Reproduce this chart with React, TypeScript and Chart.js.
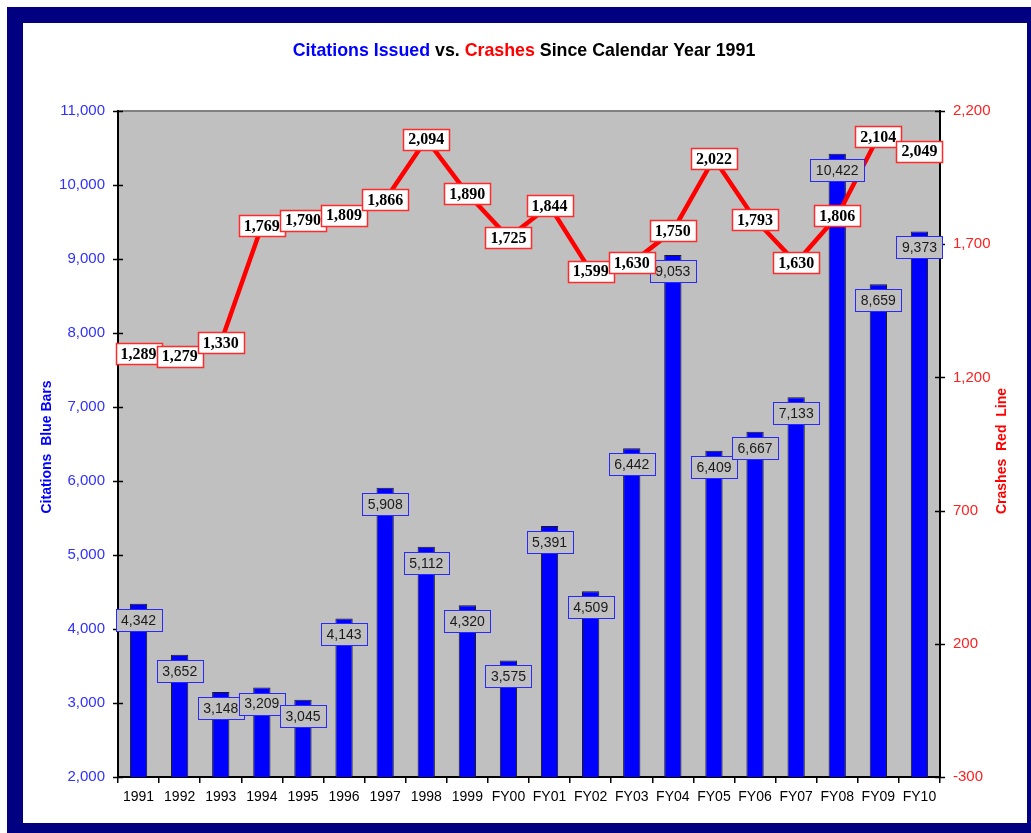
import React, { useEffect, useRef } from "react";
import { Chart, registerables } from "chart.js";

Chart.register(...registerables);

const categories = [
  "1991", "1992", "1993", "1994", "1995", "1996", "1997", "1998", "1999",
  "FY00", "FY01", "FY02", "FY03", "FY04", "FY05", "FY06", "FY07", "FY08", "FY09", "FY10",
];
const citations = [
  4342, 3652, 3148, 3209, 3045, 4143, 5908, 5112, 4320, 3575,
  5391, 4509, 6442, 9053, 6409, 6667, 7133, 10422, 8659, 9373,
];
const crashes = [
  1289, 1279, 1330, 1769, 1790, 1809, 1866, 2094, 1890, 1725,
  1844, 1599, 1630, 1750, 2022, 1793, 1630, 1806, 2104, 2049,
];
const titleParts: [string, string][] = [
  ["Citations Issued", "#0000FF"],
  [" vs. ", "#000000"],
  ["Crashes", "#FF0000"],
  [" Since Calendar Year 1991", "#000000"],
];
const leftAxisTitle = "Citations  Blue Bars";
const rightAxisTitle = "Crashes  Red  Line";

const SANS = "Arial, 'Liberation Sans', sans-serif";
const SERIF = "'Times New Roman', 'Liberation Serif', serif";

const fmt = (v: number) => v.toLocaleString("en-US");

const decorPlugin = {
  id: "decor",
  beforeDraw(chart: any) {
    const ctx = chart.ctx;
    const { left, right, top, bottom } = chart.chartArea;
    ctx.save();
    // frame
    ctx.fillStyle = "#000080";
    ctx.fillRect(7, 7, chart.width - 7, chart.height - 7);
    ctx.fillStyle = "#FFFFFF";
    ctx.fillRect(23, 23, 1027 - 23, 823 - 23);
    // plot background
    ctx.fillStyle = "#C0C0C0";
    ctx.fillRect(left, top, right - left, bottom - top);
    ctx.strokeStyle = "#808080";
    ctx.lineWidth = 2;
    ctx.beginPath();
    ctx.moveTo(left, top);
    ctx.lineTo(right, top);
    ctx.stroke();
    // title
    ctx.font = `bold 17.8px ${SANS}`;
    ctx.textBaseline = "middle";
    ctx.textAlign = "left";
    let total = 0;
    titleParts.forEach(([t]) => (total += ctx.measureText(t).width));
    let x = 524 - total / 2;
    titleParts.forEach(([t, c]) => {
      ctx.fillStyle = c;
      ctx.fillText(t, x, 51);
      x += ctx.measureText(t).width;
    });
    // axis titles
    ctx.font = `bold 14px ${SANS}`;
    ctx.textAlign = "center";
    ctx.save();
    ctx.translate(47, 447);
    ctx.rotate(-Math.PI / 2);
    ctx.fillStyle = "#0000FF";
    ctx.fillText(leftAxisTitle, 0, 0);
    ctx.restore();
    ctx.save();
    ctx.translate(1002, 451);
    ctx.rotate(-Math.PI / 2);
    ctx.fillStyle = "#FF0000";
    ctx.fillText(rightAxisTitle, 0, 0);
    ctx.restore();
    ctx.restore();
  },
  afterDraw(chart: any) {
    const ctx = chart.ctx;
    ctx.save();
    // y ticks crossing axes
    ctx.strokeStyle = "#000000";
    ctx.lineWidth = 1.5;
    const ys = chart.scales.y;
    ys.ticks.forEach((t: any) => {
      const py = Math.round(ys.getPixelForValue(t.value)) + 0.5;
      ctx.beginPath();
      ctx.moveTo(113, py);
      ctx.lineTo(123, py);
      ctx.stroke();
    });
    const y2 = chart.scales.y2;
    y2.ticks.forEach((t: any) => {
      const py = Math.round(y2.getPixelForValue(t.value)) + 0.5;
      ctx.beginPath();
      ctx.moveTo(935, py);
      ctx.lineTo(945, py);
      ctx.stroke();
    });

    // bar labels
    const barMeta = chart.getDatasetMeta(1);
    ctx.font = `14px ${SANS}`;
    ctx.textAlign = "center";
    ctx.textBaseline = "middle";
    barMeta.data.forEach((el: any, i: number) => {
      const txt = fmt(citations[i]);
      const w = Math.round(ctx.measureText(txt).width + 11);
      const h = 22;
      const cx = el.x;
      const cy = el.y + 16;
      const bx = Math.round(cx - w / 2) + 0.5;
      const by = Math.round(cy - h / 2) + 0.5;
      ctx.fillStyle = "#C0C0C0";
      ctx.fillRect(bx, by, w, h);
      ctx.strokeStyle = "#2828FF";
      ctx.lineWidth = 1;
      ctx.strokeRect(bx, by, w, h);
      ctx.fillStyle = "#1a1a1a";
      ctx.fillText(txt, cx, cy + 1);
    });

    // line labels
    const lineMeta = chart.getDatasetMeta(0);
    ctx.font = `bold 16px ${SERIF}`;
    lineMeta.data.forEach((el: any, i: number) => {
      const txt = fmt(crashes[i]);
      const w = Math.round(ctx.measureText(txt).width + 10);
      const h = 21;
      const cx = el.x;
      const cy = el.y;
      const bx = Math.round(cx - w / 2) + 0.5;
      const by = Math.round(cy - h / 2) + 0.5;
      ctx.fillStyle = "#FFFFFF";
      ctx.fillRect(bx, by, w, h);
      ctx.strokeStyle = "#FF2a2a";
      ctx.lineWidth = 1.5;
      ctx.strokeRect(bx, by, w, h);
      ctx.fillStyle = "#000000";
      ctx.fillText(txt, cx, cy + 1);
    });
    ctx.restore();
  },
};

export default function App() {
  const ref = useRef<HTMLCanvasElement | null>(null);

  useEffect(() => {
    document.body.style.margin = "0";
    if (!ref.current) return;
    const chart = new Chart(ref.current, {
      data: {
        labels: categories,
        datasets: [
          {
            type: "line",
            label: "Crashes",
            data: crashes,
            yAxisID: "y2",
            borderColor: "#FF0000",
            borderWidth: 4.5,
            pointRadius: 0,
            tension: 0,
            order: 0,
          },
          {
            type: "bar",
            label: "Citations",
            data: citations,
            yAxisID: "y",
            backgroundColor: "#0000FF",
            borderColor: "#1a1a1a",
            borderWidth: 1,
            barPercentage: 0.42,
            categoryPercentage: 1,
            order: 1,
          },
        ],
      } as any,
      options: {
        responsive: false,
        animation: false,
        layout: { padding: { top: 111, left: 0, right: 0, bottom: 0 } },
        plugins: {
          legend: { display: false },
          title: { display: false },
          tooltip: { enabled: false },
        },
        scales: {
          x: {
            offset: true,
            grid: {
              offset: true,
              drawOnChartArea: false,
              drawTicks: true,
              tickLength: 6,
              color: "#000000",
              lineWidth: 1.5,
            },
            border: { display: true, color: "#000000", width: 2 },
            ticks: {
              color: "#000000",
              font: { family: SANS, size: 14 },
              padding: 6,
              maxRotation: 0,
              autoSkip: false,
            },
            afterFit: (s: any) => {
              s.height = 56;
            },
          },
          y: {
            position: "left",
            min: 2000,
            max: 11000,
            grid: { drawOnChartArea: false, drawTicks: false },
            border: { display: true, color: "#000000", width: 2 },
            ticks: {
              stepSize: 1000,
              color: "#3030FF",
              font: { family: SANS, size: 15 },
              padding: 13,
              callback: (v: any) => fmt(Number(v)),
            },
            afterFit: (s: any) => {
              s.width = 118;
            },
          },
          y2: {
            position: "right",
            min: -300,
            max: 2200,
            grid: { drawOnChartArea: false, drawTicks: false },
            border: { display: true, color: "#000000", width: 2 },
            ticks: {
              stepSize: 500,
              color: "#FF2020",
              font: { family: SANS, size: 15 },
              padding: 13,
              callback: (v: any) => fmt(Number(v)),
            },
            afterFit: (s: any) => {
              s.width = 91;
            },
          },
        },
      } as any,
      plugins: [decorPlugin],
    });
    return () => chart.destroy();
  }, []);

  return (
    <canvas
      ref={ref}
      width={1031}
      height={833}
      style={{ display: "block", width: 1031, height: 833 }}
    />
  );
}
